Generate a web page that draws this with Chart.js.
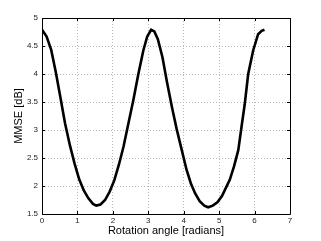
<!DOCTYPE html>
<html>
<head>
<meta charset="utf-8">
<script src="https://cdn.jsdelivr.net/npm/chart.js@4.4.1/dist/chart.umd.min.js"></script>
<style>
  html, body { margin: 0; padding: 0; background: #fff; }
  #wrap { width: 321px; height: 241px; }
</style>
</head>
<body>
<div id="wrap"><canvas id="canvas" width="321" height="241"></canvas></div>
<script>
// rotation angle (radians) and MMSE (dB)
const angles = [0, 0.13, 0.26, 0.39, 0.52, 0.65, 0.79, 0.92, 1.05, 1.18, 1.31, 1.44, 1.53, 1.65, 1.78, 1.91,
    2.04, 2.17, 2.30, 2.44, 2.58, 2.72, 2.86, 2.97, 3.08, 3.17, 3.27, 3.40, 3.53, 3.67, 3.80, 3.93,
    4.08, 4.20, 4.32, 4.45, 4.58, 4.69, 4.82, 4.95, 5.08, 5.20, 5.30, 5.42, 5.54, 5.63, 5.72, 5.82,
    5.96, 6.10, 6.20, 6.28];
const mmse = [4.79, 4.67, 4.43, 4.03, 3.58, 3.12, 2.72, 2.40, 2.12, 1.92, 1.78, 1.68, 1.65, 1.67, 1.75, 1.90,
    2.10, 2.38, 2.70, 3.12, 3.54, 4.00, 4.42, 4.67, 4.79, 4.76, 4.62, 4.30, 3.85, 3.40, 3.02, 2.68,
    2.29, 2.05, 1.87, 1.73, 1.65, 1.62, 1.65, 1.71, 1.82, 1.98, 2.11, 2.35, 2.64, 3.05, 3.45, 4.00,
    4.42, 4.71, 4.77, 4.79];
const xTicks = [0, 1, 2, 3, 4, 5, 6, 7];
const yTicks = [1.5, 2, 2.5, 3, 3.5, 4, 4.5, 5];

const points = angles.map((a, i) => ({x: a, y: mmse[i]}));

// matlab style box with inward ticks
const boxPlugin = {
    id: 'box',
    afterDraw(chart) {
        const {ctx, chartArea: a, scales} = chart;
        ctx.save();
        ctx.strokeStyle = '#000';
        ctx.lineWidth = 1;
        ctx.beginPath();
        ctx.rect(Math.round(a.left) + 0.5, Math.round(a.top) + 0.5,
            Math.round(a.right - a.left), Math.round(a.bottom - a.top));
        xTicks.forEach(v => {
            const px = Math.round(scales.x.getPixelForValue(v)) + 0.5;
            ctx.moveTo(px, a.bottom); ctx.lineTo(px, a.bottom - 3);
            ctx.moveTo(px, a.top); ctx.lineTo(px, a.top + 3);
        });
        yTicks.forEach(v => {
            const py = Math.round(scales.y.getPixelForValue(v)) + 0.5;
            ctx.moveTo(a.left, py); ctx.lineTo(a.left + 3, py);
            ctx.moveTo(a.right, py); ctx.lineTo(a.right - 3, py);
        });
        ctx.stroke();
        ctx.restore();
    }
};

const tickFont = {family: 'Liberation Sans', size: 8};
const titleFont = {family: 'Liberation Sans', size: 11};

new Chart(document.getElementById('canvas'), {
    type: 'scatter',
    data: {
        datasets: [{
            data: points,
            showLine: true,
            borderColor: '#000',
            borderWidth: 2.6,
            pointRadius: 0,
            tension: 0,
            fill: false
        }]
    },
    options: {
        responsive: false,
        animation: false,
        layout: {padding: {left: 0, right: 31, top: 18, bottom: 0}},
        plugins: {legend: {display: false}, tooltip: {enabled: false}},
        scales: {
            x: {
                type: 'linear', min: 0, max: 7,
                afterFit: s => { s.height = 27; },
                afterBuildTicks: s => { s.ticks = xTicks.map(v => ({value: v})); },
                ticks: {font: tickFont, color: '#222', padding: 2, maxRotation: 0,
                    callback: v => String(v)},
                grid: {color: '#b8b8b8', lineWidth: 1, drawTicks: false},
                border: {display: false, dash: [1, 2]},
                title: {display: true, text: 'Rotation angle [radians]', font: titleFont, color: '#000',
                    padding: {top: 0, bottom: 3}}
            },
            y: {
                type: 'linear', min: 1.5, max: 5,
                afterFit: s => { s.width = 42; },
                afterBuildTicks: s => { s.ticks = yTicks.map(v => ({value: v})); },
                ticks: {font: tickFont, color: '#222', padding: 4, callback: v => String(v)},
                grid: {color: '#b8b8b8', lineWidth: 1, drawTicks: false},
                border: {display: false, dash: [1, 2]},
                title: {display: true, text: 'MMSE [dB]', font: titleFont, color: '#000',
                    padding: {top: 12, bottom: 0}}
            }
        }
    },
    plugins: [boxPlugin]
});
</script>
</body>
</html>
